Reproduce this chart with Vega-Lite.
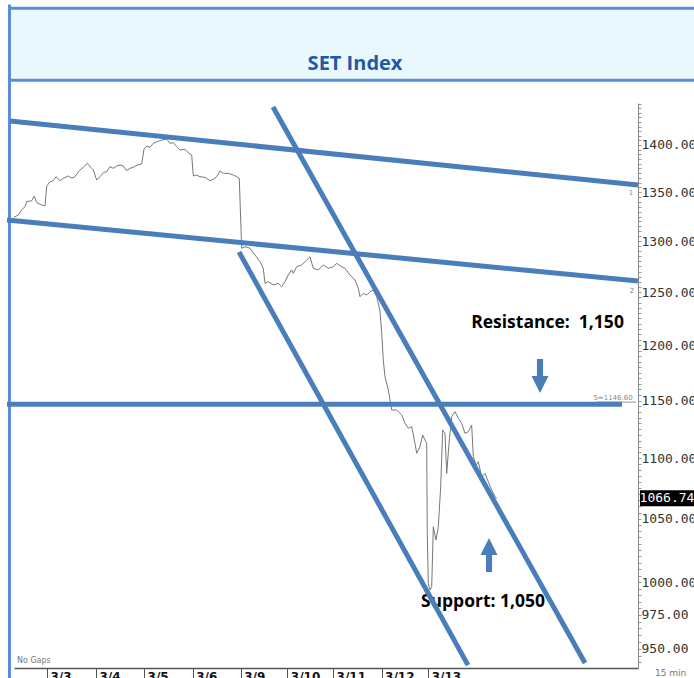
{
  "$schema": "https://vega.github.io/schema/vega-lite/v6.json",
  "width": 624,
  "height": 565,
  "autosize": {"type": "none"},
  "padding": {"left": 14, "top": 103, "right": 56, "bottom": 10},
  "background": "white",
  "config": {"view": {"stroke": null}},
  "datasets": {
    "price": [
      {"t": -0.693, "v": 1324.2}, {"t": -0.603, "v": 1326.6}, {"t": -0.532, "v": 1331.7}, {"t": -0.462, "v": 1335.1},
      {"t": -0.426, "v": 1340.2}, {"t": -0.321, "v": 1341.2}, {"t": -0.267, "v": 1346.1}, {"t": -0.216, "v": 1339.2},
      {"t": -0.111, "v": 1336.8}, {"t": -0.042, "v": 1335.8}, {"t": -0.006, "v": 1356.5}, {"t": 0.063, "v": 1361.0},
      {"t": 0.132, "v": 1362.1}, {"t": 0.189, "v": 1366.2}, {"t": 0.273, "v": 1362.1}, {"t": 0.342, "v": 1364.6},
      {"t": 0.447, "v": 1367.0}, {"t": 0.519, "v": 1364.6}, {"t": 0.588, "v": 1366.2}, {"t": 0.679, "v": 1372.6},
      {"t": 0.763, "v": 1376.2}, {"t": 0.847, "v": 1380.4}, {"t": 0.918, "v": 1376.2}, {"t": 0.973, "v": 1373.3},
      {"t": 1.044, "v": 1362.8}, {"t": 1.113, "v": 1366.2}, {"t": 1.183, "v": 1370.5}, {"t": 1.254, "v": 1371.5},
      {"t": 1.324, "v": 1376.8}, {"t": 1.393, "v": 1375.1}, {"t": 1.464, "v": 1377.5}, {"t": 1.534, "v": 1378.6},
      {"t": 1.603, "v": 1377.5}, {"t": 1.674, "v": 1372.6}, {"t": 1.744, "v": 1375.1}, {"t": 1.813, "v": 1376.2},
      {"t": 1.897, "v": 1378.6}, {"t": 1.989, "v": 1379.7}, {"t": 2.038, "v": 1395.4}, {"t": 2.095, "v": 1398.9},
      {"t": 2.164, "v": 1397.5}, {"t": 2.233, "v": 1401.8}, {"t": 2.317, "v": 1403.6}, {"t": 2.41, "v": 1405.4},
      {"t": 2.515, "v": 1406.2}, {"t": 2.584, "v": 1401.8}, {"t": 2.653, "v": 1402.5}, {"t": 2.725, "v": 1398.2},
      {"t": 2.794, "v": 1394.6}, {"t": 2.899, "v": 1395.4}, {"t": 2.968, "v": 1391.7}, {"t": 3.04, "v": 1389.2},
      {"t": 3.074, "v": 1367.0}, {"t": 3.145, "v": 1368.0}, {"t": 3.214, "v": 1366.2}, {"t": 3.319, "v": 1365.6},
      {"t": 3.424, "v": 1362.1}, {"t": 3.494, "v": 1363.5}, {"t": 3.565, "v": 1366.2}, {"t": 3.634, "v": 1372.3},
      {"t": 3.704, "v": 1369.8}, {"t": 3.809, "v": 1369.8}, {"t": 3.914, "v": 1368.0}, {"t": 3.985, "v": 1366.2},
      {"t": 4.04, "v": 1364.6}, {"t": 4.06, "v": 1335.1}, {"t": 4.09, "v": 1293.0}, {"t": 4.16, "v": 1294.6},
      {"t": 4.265, "v": 1293.0}, {"t": 4.37, "v": 1286.3}, {"t": 4.475, "v": 1279.7}, {"t": 4.544, "v": 1273.2},
      {"t": 4.58, "v": 1258.6}, {"t": 4.649, "v": 1260.2}, {"t": 4.754, "v": 1257.0}, {"t": 4.859, "v": 1258.6},
      {"t": 4.931, "v": 1255.3}, {"t": 5.0, "v": 1260.2}, {"t": 5.069, "v": 1266.7}, {"t": 5.141, "v": 1271.6},
      {"t": 5.174, "v": 1268.3}, {"t": 5.246, "v": 1274.8}, {"t": 5.351, "v": 1276.5}, {"t": 5.456, "v": 1281.4},
      {"t": 5.525, "v": 1284.6}, {"t": 5.594, "v": 1273.2}, {"t": 5.7, "v": 1271.6}, {"t": 5.805, "v": 1276.5},
      {"t": 5.91, "v": 1273.2}, {"t": 6.015, "v": 1274.8}, {"t": 6.086, "v": 1278.1}, {"t": 6.191, "v": 1274.8},
      {"t": 6.261, "v": 1273.2}, {"t": 6.366, "v": 1266.7}, {"t": 6.471, "v": 1261.8}, {"t": 6.54, "v": 1253.8},
      {"t": 6.576, "v": 1245.7}, {"t": 6.645, "v": 1248.9}, {"t": 6.716, "v": 1247.3}, {"t": 6.786, "v": 1250.5},
      {"t": 6.855, "v": 1252.1}, {"t": 6.926, "v": 1245.7}, {"t": 6.96, "v": 1239.4}, {"t": 6.996, "v": 1232.0},
      {"t": 7.032, "v": 1211.1}, {"t": 7.065, "v": 1186.4}, {"t": 7.101, "v": 1171.3}, {"t": 7.17, "v": 1159.4},
      {"t": 7.242, "v": 1141.6}, {"t": 7.347, "v": 1141.6}, {"t": 7.452, "v": 1137.3}, {"t": 7.521, "v": 1130.0},
      {"t": 7.59, "v": 1125.7}, {"t": 7.662, "v": 1127.1}, {"t": 7.731, "v": 1112.7}, {"t": 7.767, "v": 1104.2},
      {"t": 7.836, "v": 1109.8}, {"t": 7.893, "v": 1119.9}, {"t": 7.941, "v": 1115.6}, {"t": 7.977, "v": 1112.7},
      {"t": 7.989, "v": 1038.3}, {"t": 8.011, "v": 999.1}, {"t": 8.046, "v": 993.9}, {"t": 8.082, "v": 996.4},
      {"t": 8.116, "v": 1043.5}, {"t": 8.172, "v": 1032.9}, {"t": 8.221, "v": 1043.5}, {"t": 8.271, "v": 1076.2},
      {"t": 8.313, "v": 1124.2}, {"t": 8.361, "v": 1121.3}, {"t": 8.397, "v": 1087.3}, {"t": 8.452, "v": 1115.6},
      {"t": 8.502, "v": 1135.8}, {"t": 8.571, "v": 1140.2}, {"t": 8.641, "v": 1134.4}, {"t": 8.712, "v": 1130.0},
      {"t": 8.782, "v": 1121.3}, {"t": 8.851, "v": 1122.7}, {"t": 8.922, "v": 1128.5}, {"t": 8.956, "v": 1101.3},
      {"t": 9.013, "v": 1094.3}, {"t": 9.061, "v": 1097.1}, {"t": 9.132, "v": 1084.5}, {"t": 9.202, "v": 1087.3},
      {"t": 9.271, "v": 1080.3}, {"t": 9.342, "v": 1073.5}, {"t": 9.412, "v": 1067.9}, {"t": 9.448, "v": 1066.74}
    ],
    "trend": [
      {"name": "upper channel top", "t": -0.777, "v": 1426.1, "t2": 12.416, "v2": 1357.5},
      {"name": "upper channel bottom", "t": -0.84, "v": 1321.5, "t2": 12.416, "v2": 1260.8},
      {"name": "down channel top", "t": 4.748, "v": 1441.6, "t2": 11.303, "v2": 939.6},
      {"name": "down channel bottom", "t": 4.034, "v": 1289.3, "t2": 8.845, "v2": 938.1},
      {"name": "resistance", "t": -0.84, "v": 1146.6, "t2": 12.08, "v2": 1146.6}
    ],
    "header": [{"t": -0.788, "t2": 14.0, "v": 1471.8, "v2": 1555.7}],
    "frame": [
      {"t": -0.82, "t2": 14.0, "v": 1555.3, "v2": 1555.3},
      {"t": -0.82, "t2": 14.0, "v": 1471.5, "v2": 1471.5},
      {"t": -0.788, "t2": -0.788, "v": 1560, "v2": 900}
    ],
    "thin": [{"t": 11.555, "t2": 12.374, "v": 1148.6, "v2": 1148.6}],
    "arrows": [
      {"t": 10.357, "v": 1171.9, "dir": "down"},
      {"t": 9.286, "v": 1021.0, "dir": "up"}
    ]
  },
  "encoding": {
    "x": {
      "field": "t", "type": "quantitative",
      "scale": {"domain": [-0.693, 12.416], "nice": false, "zero": false},
      "axis": {
        "title": null, "grid": false,
        "values": [0, 1.03, 2.04, 3.06, 4.07, 5.05, 6.01, 7.03, 8.01],
        "labelExpr": "['3/3','3/4','3/5','3/6','3/9','3/10','3/11','3/12','3/13'][round(datum.value)]",
        "domainColor": "#555", "domainWidth": 1.5,
        "tickColor": "#555", "tickSize": 12, "tickWidth": 1,
        "labelPadding": -9, "labelAlign": "left", "labelBaseline": "top", "labelOffset": 3,
        "labelFont": "DejaVu Sans", "labelFontSize": 12, "labelFontWeight": "bold", "labelColor": "#111",
        "labelOverlap": false, "labelFlush": false, "labelBound": false
      }
    },
    "y": {
      "field": "v", "type": "quantitative",
      "scale": {"type": "log", "domain": [936, 1446], "nice": false, "zero": false},
      "axis": {
        "title": null, "grid": false, "orient": "right",
        "tickCount": 100,
        "labelExpr": "indexof([950,975,1000,1050,1100,1150,1200,1250,1300,1350,1400], datum.value) >= 0 ? format(datum.value, '.2f') : ''",
        "domainColor": "#888", "domainWidth": 1,
        "tickColor": "#999", "tickSize": 3, "tickWidth": 1,
        "labelPadding": 0, "labelAlign": "left", "labelBaseline": "middle",
        "labelFont": "DejaVu Sans Mono", "labelFontSize": 13, "labelColor": "#333",
        "labelOverlap": false, "labelFlush": false, "labelBound": false
      }
    }
  },
  "layer": [
    {
      "data": {"name": "header"},
      "mark": {"type": "rect", "fill": "#e9f8fd", "clip": false},
      "encoding": {"x2": {"field": "t2"}, "y2": {"field": "v2"}}
    },
    {
      "data": {"name": "frame"},
      "mark": {"type": "rule", "color": "#5a8dd3", "strokeWidth": 3, "clip": false},
      "encoding": {"x2": {"field": "t2"}, "y2": {"field": "v2"}}
    },
    {
      "data": {"values": [{"t": 6.471, "v": 1483.2, "label": "SET Index"}]},
      "mark": {"type": "text", "font": "Open Sans", "fontSize": 20, "fontWeight": "bold", "color": "#1f5aa8", "align": "center", "baseline": "alphabetic", "clip": false},
      "encoding": {"text": {"field": "label"}}
    },
    {
      "data": {"name": "price"},
      "mark": {"type": "line", "color": "#777777", "strokeWidth": 1, "clip": false},
      "encoding": {}
    },
    {
      "data": {"values": [
        {"t": 10.515, "v": 1216.0, "label": "Resistance:\u00a0 1,150"},
        {"t": 9.16, "v": 981.2, "label": "Support: 1,050"}
      ]},
      "mark": {"type": "text", "font": "Open Sans", "fontSize": 17.5, "fontWeight": "bold", "color": "#000", "align": "center", "baseline": "alphabetic", "clip": false},
      "encoding": {"text": {"field": "label"}}
    },
    {
      "data": {"name": "thin"},
      "mark": {"type": "rule", "color": "#999", "strokeWidth": 1, "clip": false},
      "encoding": {"x2": {"field": "t2"}, "y2": {"field": "v2"}}
    },
    {
      "data": {"name": "trend"},
      "mark": {"type": "rule", "color": "#4a7ebb", "strokeWidth": 5, "clip": false},
      "encoding": {"x2": {"field": "t2"}, "y2": {"field": "v2"}}
    },
    {
      "data": {"name": "arrows"},
      "mark": {"type": "point", "filled": true, "opacity": 1, "size": 1156, "color": "#4a7ebb", "strokeWidth": 0, "clip": false},
      "encoding": {
        "shape": {"field": "dir", "type": "nominal", "legend": null,
          "scale": {"domain": ["down", "up"], "range": ["M-0.18,-1H0.18V0H0.5L0,1L-0.5,0H-0.18Z", "M-0.18,1H0.18V0H0.5L0,-1L-0.5,0H-0.18Z"]}}
      }
    },
    {
      "data": {"values": [
        {"t": 12.269, "v": 1349.2, "label": "1"},
        {"t": 12.29, "v": 1251.1, "label": "2"},
        {"t": 11.891, "v": 1151.8, "label": "5=1146.60"}
      ]},
      "mark": {"type": "text", "font": "DejaVu Sans", "fontSize": 7, "color": "#888", "align": "center", "baseline": "middle", "clip": false},
      "encoding": {"text": {"field": "label"}}
    },
    {
      "data": {"values": [
        {"t": -0.63, "v": 941.1, "label": "No Gaps", "size": 8},
        {"t": 12.773, "v": 932.4, "label": "15 min", "size": 9}
      ]},
      "mark": {"type": "text", "font": "DejaVu Sans", "color": "#777", "align": "left", "baseline": "middle", "clip": false},
      "encoding": {"text": {"field": "label"}, "size": {"field": "size", "type": "quantitative", "scale": null}}
    },
    {
      "data": {"values": [{"t": 13.025, "v": 1066.74, "label": "1066.74"}]},
      "mark": {"type": "point", "filled": true, "opacity": 1, "size": 2916, "color": "#000", "strokeWidth": 0, "shape": "M-1,-0.296H1V0.296H-1Z", "clip": false},
      "encoding": {}
    },
    {
      "data": {"values": [{"t": 13.025, "v": 1066.74, "label": "1066.74"}]},
      "mark": {"type": "text", "font": "DejaVu Sans Mono", "fontSize": 13, "color": "#fff", "align": "center", "baseline": "middle", "clip": false},
      "encoding": {"text": {"field": "label"}}
    }
  ]
}
